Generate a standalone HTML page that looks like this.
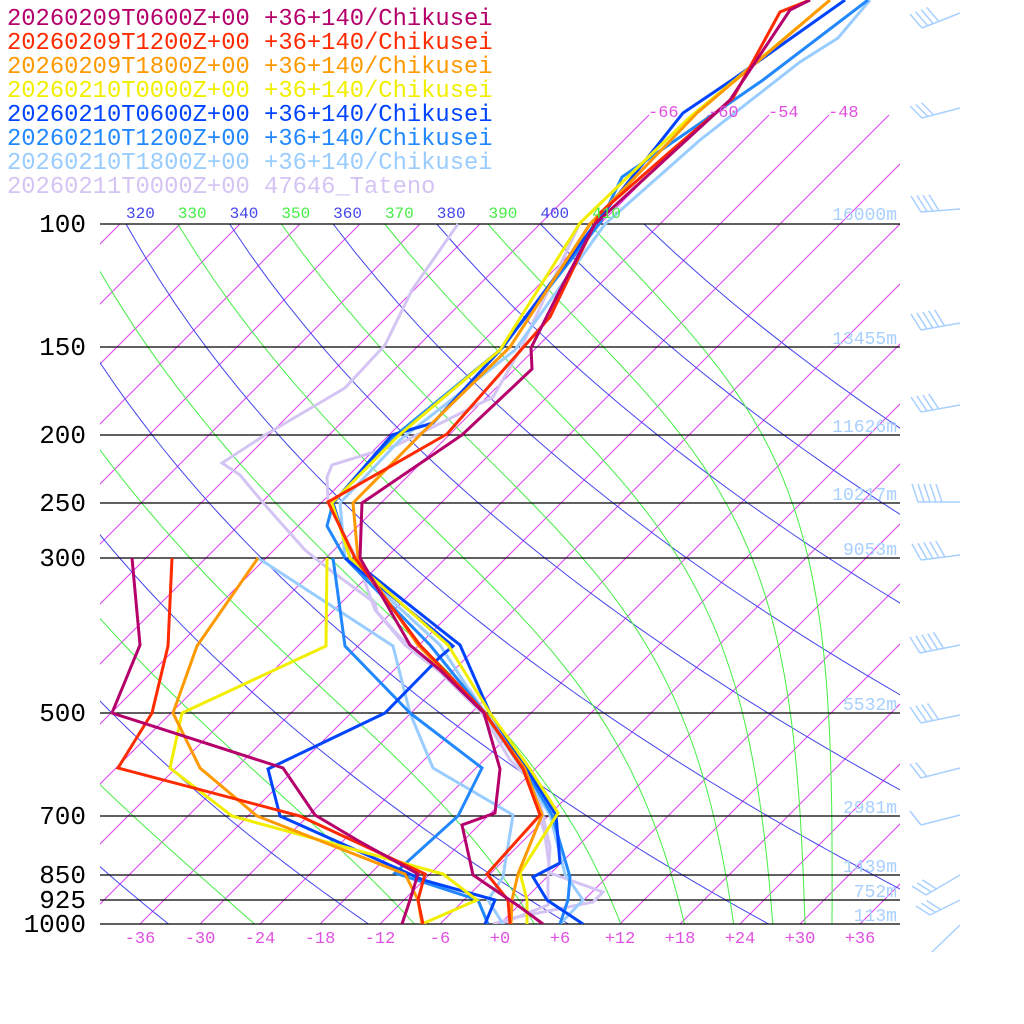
<!DOCTYPE html>
<html><head><meta charset="utf-8"><style>
html,body{margin:0;padding:0;background:#fff;}
svg{display:block;}
</style></head><body>
<svg id="s" xmlns="http://www.w3.org/2000/svg" width="1024" height="1024" viewBox="0 0 1024 1024">
<defs><clipPath id="cp"><rect x="100" y="0" width="800" height="924"/></clipPath></defs>
<g id="grid" clip-path="url(#cp)"></g>
<g id="hl"></g>
<g id="data" clip-path="url(#cp)" fill="none" stroke-width="3" stroke-linejoin="miter"></g>
<g id="txt"></g>
<g id="barbs" stroke="#a8d0ff" stroke-width="1.5" fill="none"></g>
</svg>
<script>
var NS="http://www.w3.org/2000/svg";
function el(par,tag,attrs,text){var e=document.createElementNS(NS,tag);for(var k in attrs)e.setAttribute(k,attrs[k]);if(text!==undefined)e.textContent=text;document.getElementById(par).appendChild(e);return e;}
function yP(p){return 224+304*Math.log(p/100);}
function xT(t,y){return 500+10*t+(924-y);}
for(var T=-120;T<=48;T+=6){var yt=(T>=-66)?115:224;el("grid","line",{x1:xT(T,924),y1:924,x2:xT(T,yt),y2:yt,stroke:"#e040f0","stroke-width":1});}
function es(tc){return 6.112*Math.exp(17.67*tc/(tc+243.5));}
function the(Tk,p){var e=es(Tk-273.15);var rs=0.622*e/Math.max(p-e,1);return Tk*Math.pow(1000/p,0.2857)*Math.exp(2675*rs/Tk);}
function solve(th,p){var lo=120,hi=340;for(var i=0;i<50;i++){var m=(lo+hi)/2;if(the(m,p)>th)hi=m;else lo=m;}return (lo+hi)/2-273.15;}
for(var th=200;th<=420;th+=10){var odd=((th/10)%2==1);var pts=[];
 for(var p=100;p<=1000.01;p+=10){var y=yP(p);var tc=odd?solve(th,p):(th*Math.pow(p/1000,0.2857)-273.15);pts.push(xT(tc,y).toFixed(1)+","+y.toFixed(1));}
 var col=odd?"#44ee44":"#4444ee";
 el("grid","polyline",{points:pts.join(" "),fill:"none",stroke:col,"stroke-width":1});
 var xl=xT(th*Math.pow(0.1,0.2857)-273.15,224);
 if(xl>95&&xl<620)el("txt","text",{x:xl,y:218,fill:col,"font-family":"Liberation Mono, monospace","font-size":16},String(th));
}
var P=[100,150,200,250,300,500,700,850,925,1000];
P.forEach(function(p){var y=Math.round(yP(p));el("hl","line",{x1:100,y1:y,x2:900,y2:y,stroke:"#000","stroke-width":1.3});
 el("txt","text",{x:86,y:y+8,"text-anchor":"end","font-family":"Liberation Mono, monospace","font-size":26,fill:"#000"},String(p));});
var S=[
["#b5006b",[[543,924],[520,907],[473,875],[462,825],[495,813],[500,769],[484,713],[440,670],[410,645],[360,558],[362,503],[462,435],[532,369],[531,348],[560,290],[595,224],[730,100],[790,10],[810,0]],
 [[402,924],[410,900],[418,874],[357,840],[315,815],[283,768],[112,713],[140,645],[132,558]]],
["#ff2a00",[[510,924],[508,900],[487,874],[540,815],[523,769],[485,713],[420,645],[355,558],[328,502],[447,434],[550,317],[600,213],[672,150],[733,98],[780,12],[810,0]],
 [[423,924],[418,900],[425,874],[300,816],[118,768],[152,713],[168,646],[172,558]]],
["#ff9900",[[511,924],[512,900],[518,874],[542,815],[525,769],[484,713],[418,645],[358,558],[353,503],[420,435],[510,347],[590,224],[697,113],[830,0]],
 [[422,924],[418,900],[405,874],[257,816],[200,768],[173,713],[197,646],[258,558]]],
["#f2ee00",[[527,924],[527,900],[520,873],[558,813],[530,769],[490,713],[448,645],[350,558],[332,503],[398,436],[500,350],[580,223],[690,117],[735,80],[830,0]],
 [[422,924],[477,900],[443,874],[232,816],[170,768],[182,713],[326,646],[327,558]]],
["#0044ff",[[583,924],[547,900],[533,877],[560,863],[556,815],[527,769],[490,713],[460,645],[350,558],[333,503],[392,435],[433,423],[503,347],[595,224],[683,113],[732,80],[845,0]],
 [[485,924],[495,900],[423,880],[280,816],[268,769],[385,713],[440,657],[453,646],[345,558]]],
["#2288ff",[[560,924],[568,900],[570,877],[552,815],[525,769],[485,713],[430,645],[345,558],[327,526],[333,503],[390,440],[500,350],[600,223],[622,177],[763,80],[868,0]],
 [[488,924],[478,900],[395,873],[458,816],[482,768],[410,713],[345,646],[333,558]]],
["#99ccff",[[560,924],[583,900],[565,874],[550,815],[522,769],[484,713],[440,645],[345,558],[340,503],[400,440],[515,350],[605,224],[700,140],[800,62],[838,38],[870,0]],
 [[503,924],[488,900],[503,877],[513,815],[433,768],[410,713],[393,646],[258,558]]],
["#d4c4f4",[[493,924],[513,918],[593,902],[603,892],[550,873],[545,835],[530,780],[510,760],[482,713],[440,672],[405,645],[375,610],[357,560],[337,520],[328,500],[327,477],[332,465],[397,445],[493,397],[520,350],[580,223]],
 [[500,924],[548,905],[548,880],[550,847],[535,780],[500,735],[470,690],[413,650],[400,637],[377,612],[375,603],[330,570],[305,550],[265,505],[240,475],[222,463],[265,435],[345,388],[385,345],[412,290],[458,224]]]
];
for(var i=S.length-1;i>=0;i--){var s=S[i];
 [s[1],s[2]].forEach(function(a){el("data","polyline",{points:a.map(function(q){return q.join(",");}).join(" "),stroke:s[0]});});}
var L=[["20260209T0600Z+00 +36+140/Chikusei","#b5006b"],["20260209T1200Z+00 +36+140/Chikusei","#ff2a00"],["20260209T1800Z+00 +36+140/Chikusei","#ff9900"],["20260210T0000Z+00 +36+140/Chikusei","#f2ee00"],["20260210T0600Z+00 +36+140/Chikusei","#0044ff"],["20260210T1200Z+00 +36+140/Chikusei","#2288ff"],["20260210T1800Z+00 +36+140/Chikusei","#99ccff"],["20260211T0000Z+00 47646_Tateno","#d4c4f4"]];
L.forEach(function(l,i){el("txt","text",{x:7,y:25+24*i,fill:l[1],"font-family":"Liberation Mono, monospace","font-size":23.8},l[0]);});
for(var t=-36;t<=36;t+=6){var lab=(t>=0?"+":"")+t;if(t<0)lab=String(t);el("txt","text",{x:500+10*t,y:943,"text-anchor":"middle",fill:"#e050e0","font-family":"Liberation Mono, monospace","font-size":17},lab);}
[["-66",648],["-60",708],["-54",768],["-48",828]].forEach(function(a){el("txt","text",{x:a[1],y:117,fill:"#e050e0","font-family":"Liberation Mono, monospace","font-size":17},a[0]);});
[["16000m",220],["13455m",344],["11626m",432],["10217m",500],["9053m",555],["5532m",710],["2981m",813],["1439m",872],["752m",897],["113m",921]].forEach(function(a){el("txt","text",{x:897,y:a[1],"text-anchor":"end",fill:"#a8d0ff","font-family":"Liberation Mono, monospace","font-size":18},a[0]);});
function barb(x0,y0,x1,y1,n,dx,dy){var d="M"+x0+","+y0+"L"+x1+","+y1;var ux=(x1-x0)/Math.hypot(x1-x0,y1-y0),uy=(y1-y0)/Math.hypot(x1-x0,y1-y0);
 for(var k=0;k<n;k++){var bx=x0+ux*6*k,by=y0+uy*6*k;d+="M"+bx.toFixed(1)+","+by.toFixed(1)+"l"+dx+","+dy;}
 el("barbs","path",{d:d});}
barb(922,28,960,13,4,-12,-14);
barb(922,118,960,108,3,-12,-12);
barb(921,212,960,209,4,-10,-16);
barb(921,330,960,323,5,-10,-16);
barb(921,412,960,405,4,-10,-15);
barb(918,502,960,502,5,-6,-18);
barb(921,560,960,555,5,-9,-16);
barb(920,653,960,645,5,-10,-16);
barb(921,723,960,715,4,-11,-16);
barb(921,778,960,768,2,-11,-14);
barb(921,825,960,815,1,-11,-14);
barb(926,895,960,875,3,-14,-9);
barb(930,915,960,900,3,-14,-9);
barb(932,952,960,925,0,0,0);
</script>
</body></html>
